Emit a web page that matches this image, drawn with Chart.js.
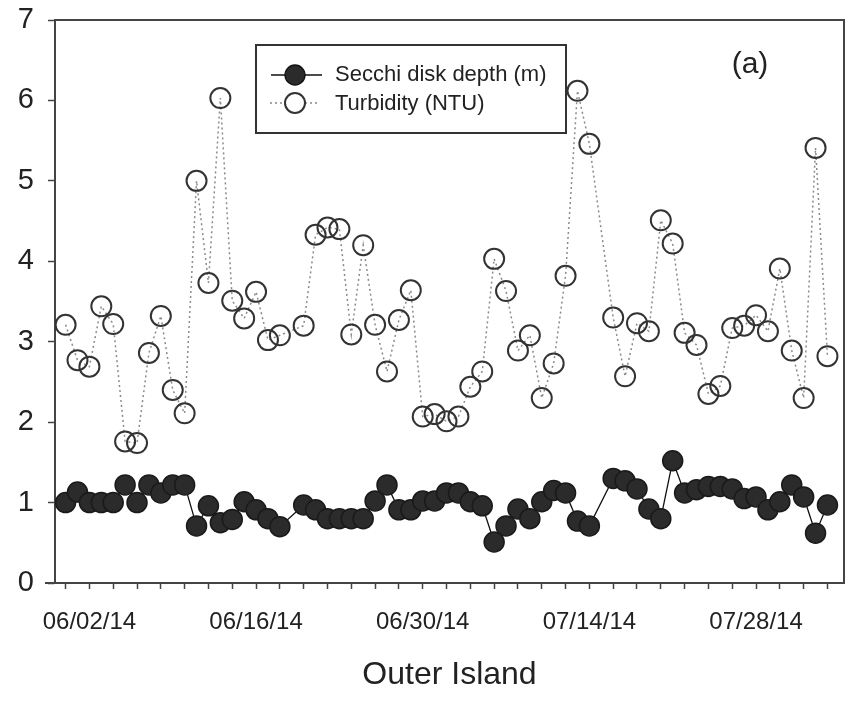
<!DOCTYPE html>
<html>
<head>
<meta charset="utf-8">
<script src="https://cdn.jsdelivr.net/npm/chart.js@4.4.1/dist/chart.umd.min.js"></script>
<style>
  html, body { margin: 0; padding: 0; background: #fff; }
  #chartWrap { width: 856px; height: 704px; }
</style>
</head>
<body>
<div id="chartWrap"><canvas id="secchiChart" width="856" height="704"></canvas></div>
<script>
// sampling dates (2014), turbidity and Secchi
const sampleDates = [
  "05/31", "06/01", "06/02", "06/03", "06/04", "06/05", "06/06", "06/07",
  "06/08", "06/09", "06/10", "06/11", "06/12", "06/13", "06/14", "06/15",
  "06/16", "06/17", "06/18",
  "06/20", "06/21", "06/22", "06/23", "06/24", "06/25", "06/26", "06/27",
  "06/28", "06/29", "06/30", "07/01", "07/02", "07/03", "07/04", "07/05",
  "07/06", "07/07", "07/08", "07/09", "07/10", "07/11", "07/12", "07/13",
  "07/14",
  "07/16", "07/17", "07/18", "07/19", "07/20", "07/21", "07/22", "07/23",
  "07/24", "07/25", "07/26", "07/27", "07/28", "07/29", "07/30", "07/31",
  "08/01", "08/02", "08/03",
];

const secchiDepth = [
  1.0, 1.13, 1.0, 1.0, 1.0, 1.22, 1.0, 1.22,
  1.12, 1.22, 1.22, 0.71, 0.96, 0.75, 0.79, 1.01,
  0.91, 0.8, 0.7,
  0.97, 0.91, 0.8, 0.8, 0.8, 0.8, 1.02, 1.22,
  0.91, 0.91, 1.02, 1.02, 1.12, 1.12, 1.01, 0.96,
  0.51, 0.71, 0.92, 0.8, 1.01, 1.15, 1.12, 0.77,
  0.71,
  1.3, 1.27, 1.17, 0.92, 0.8, 1.52, 1.12, 1.16,
  1.2, 1.2, 1.17, 1.05, 1.07, 0.91, 1.01, 1.22,
  1.07, 0.62, 0.97,
];

const turbidity = [
  3.21, 2.77, 2.69, 3.44, 3.22, 1.76, 1.74, 2.86,
  3.32, 2.4, 2.11, 5.0, 3.73, 6.03, 3.51, 3.29,
  3.62, 3.02, 3.08,
  3.2, 4.33, 4.42, 4.4, 3.09, 4.2, 3.21, 2.63,
  3.27, 3.64, 2.07, 2.1, 2.01, 2.07, 2.44, 2.63,
  4.03, 3.63, 2.89, 3.08, 2.3, 2.73, 3.82, 6.12,
  5.46,
  3.3, 2.57, 3.23, 3.13, 4.51, 4.22, 3.11, 2.96,
  2.35, 2.45, 3.17, 3.2, 3.33, 3.13, 3.91, 2.89,
  2.3, 5.41, 2.82,
];

const xTickLabels = ["06/02/14", "06/16/14", "06/30/14", "07/14/14", "07/28/14"];
const yTickValues = [0, 1, 2, 3, 4, 5, 6, 7];

const FONT = "'Liberation Sans', Arial, sans-serif";
const axisStart = Date.UTC(2014, 5, 2);

function dayOffset(str) {
  const parts = str.split("/");
  return (Date.UTC(2014, +parts[0] - 1, +parts[1]) - axisStart) / 864e5;
}

const xDays = sampleDates.map(dayOffset);
const labelDays = xTickLabels.map((l) => dayOffset(l.slice(0, 5)));

const secchiPoints = xDays.map((d, i) => ({ x: d, y: secchiDepth[i] }));
const turbPoints = xDays.map((d, i) => ({ x: d, y: turbidity[i] }));

// frame, title, panel letter and legend box
const decorPlugin = {
  id: "decor",
  afterDraw(chart) {
    const { ctx, chartArea: a } = chart;
    ctx.save();
    ctx.strokeStyle = "#444";
    ctx.lineWidth = 2;
    ctx.beginPath();
    ctx.moveTo(a.left, a.top);
    ctx.lineTo(a.right, a.top);
    ctx.lineTo(a.right, a.bottom);
    ctx.moveTo(a.left - 10, a.bottom);
    ctx.lineTo(a.left, a.bottom);
    ctx.stroke();

    ctx.fillStyle = "#222";
    ctx.textAlign = "center";
    ctx.textBaseline = "middle";
    ctx.font = "32px " + FONT;
    ctx.fillText("Outer Island", (a.left + a.right) / 2, 675);
    ctx.font = "30px " + FONT;
    ctx.fillText("(a)", 750, 65);

    // legend
    ctx.strokeStyle = "#333";
    ctx.lineWidth = 2;
    ctx.strokeRect(256, 45, 310, 88);

    ctx.lineWidth = 1.3;
    ctx.strokeStyle = "#111";
    ctx.beginPath();
    ctx.moveTo(271, 75);
    ctx.lineTo(322, 75);
    ctx.stroke();
    ctx.beginPath();
    ctx.arc(295, 75, 10, 0, Math.PI * 2);
    ctx.fillStyle = "#2b2b2b";
    ctx.fill();
    ctx.stroke();

    ctx.strokeStyle = "#888";
    ctx.setLineDash([2, 3]);
    ctx.lineWidth = 1.5;
    ctx.beginPath();
    ctx.moveTo(270, 103);
    ctx.lineTo(320, 103);
    ctx.stroke();
    ctx.setLineDash([]);
    ctx.beginPath();
    ctx.arc(295, 103, 10, 0, Math.PI * 2);
    ctx.fillStyle = "#fff";
    ctx.fill();
    ctx.strokeStyle = "#333";
    ctx.lineWidth = 2;
    ctx.stroke();

    ctx.fillStyle = "#222";
    ctx.textAlign = "left";
    ctx.font = "22px " + FONT;
    ctx.fillText("Secchi disk depth (m)", 335, 75);
    ctx.fillText("Turbidity (NTU)", 335, 104);
    ctx.restore();
  },
};

const ctx = document.getElementById("secchiChart").getContext("2d");
const secchiChart = new Chart(ctx, {
  type: "scatter",
  data: {
    datasets: [
      {
        label: "Secchi disk depth (m)",
        data: secchiPoints,
        showLine: true,
        borderColor: "#111",
        borderWidth: 1.3,
        pointRadius: 10,
        pointBackgroundColor: "#2b2b2b",
        pointBorderColor: "#1a1a1a",
        pointBorderWidth: 1.5,
      },
      {
        label: "Turbidity (NTU)",
        data: turbPoints,
        showLine: true,
        borderColor: "#8a8a8a",
        borderWidth: 1.5,
        borderDash: [2, 3],
        pointRadius: 10,
        pointBackgroundColor: "rgba(255,255,255,0)",
        pointBorderColor: "#333",
        pointBorderWidth: 2,
      },
    ],
  },
  options: {
    responsive: false,
    animation: false,
    devicePixelRatio: 1,
    layout: { padding: { top: 20, right: 3, left: 0, bottom: 0 } },
    scales: {
      x: {
        type: "linear",
        min: -2.89,
        max: 63.39,
        afterFit: (scale) => {
          scale.height = 121;
          scale.paddingLeft = 0;
          scale.paddingRight = 0;
        },
        afterBuildTicks: (scale) => {
          const t = [];
          for (let d = -2; d <= 62; d += 2) t.push({ value: d });
          scale.ticks = t;
        },
        grid: {
          drawOnChartArea: false,
          tickLength: 6,
          tickColor: "#444",
          tickWidth: 1.5,
        },
        border: { color: "#444", width: 2 },
        ticks: {
          autoSkip: false,
          maxRotation: 0,
          padding: 19,
          color: "#222",
          font: { family: FONT, size: 24 },
          callback: (v) => {
            const i = labelDays.indexOf(v);
            return i >= 0 ? xTickLabels[i] : "";
          },
        },
      },
      y: {
        min: 0,
        max: 7,
        afterFit: (scale) => {
          scale.width = 55;
          scale.paddingTop = 0;
          scale.paddingBottom = 0;
        },
        afterBuildTicks: (scale) => {
          scale.ticks = yTickValues.map((v) => ({ value: v }));
        },
        grid: {
          drawOnChartArea: false,
          tickLength: 7,
          tickColor: "#444",
          tickWidth: 1.5,
        },
        border: { color: "#444", width: 2 },
        ticks: {
          padding: 14,
          color: "#222",
          font: { family: FONT, size: 29 },
        },
      },
    },
    plugins: {
      legend: { display: false },
      tooltip: { enabled: false },
    },
  },
  plugins: [decorPlugin],
});
</script>
</body>
</html>
